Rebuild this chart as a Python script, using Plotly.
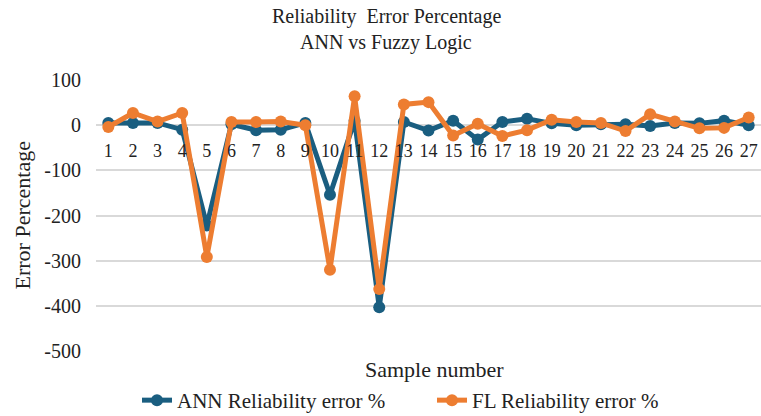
import plotly.graph_objects as go

samples = [str(i) for i in range(1, 28)]
ann_error = [5, 5, 5, -10, -222, 2, -11, -10, 5, -154, 10, -403, 7, -12, 10, -32, 7, 14, 4, 0, 2, 2, -2, 5, 4, 10, 0]
fl_error = [-4, 27, 8, 27, -292, 7, 7, 8, 0, -320, 64, -363, 46, 51, -23, 3, -24, -11, 12, 7, 5, -13, 24, 8, -7, -6, 17]
y_ticks = [100, 0, -100, -200, -300, -400, -500]
y_tick_text = ["100", "0", "-100", "-200", "-300", "-400", "-500"]

FONT = "Liberation Serif, Times New Roman, serif"
BLUE = "#1A5E80"
ORANGE = "#ED7D31"
TXT = "#222222"

fig = go.Figure()
fig.add_trace(go.Scatter(
    x=samples, y=ann_error, name="ANN Reliability error %",
    mode="lines+markers", line=dict(color=BLUE, width=5),
    marker=dict(color=BLUE, size=12)))
fig.add_trace(go.Scatter(
    x=samples, y=fl_error, name="FL Reliability error %",
    mode="lines+markers", line=dict(color=ORANGE, width=5),
    marker=dict(color=ORANGE, size=12)))

ymin, ymax = -500, 100
W, H = 761, 416
fig.update_layout(
    width=W, height=H,
    margin=dict(l=96, r=0, t=80, b=65, autoexpand=False),
    paper_bgcolor="white", plot_bgcolor="white",
    font=dict(family=FONT, color=TXT),
    showlegend=True,
    legend=dict(orientation="h", x=137 / W, xref="container", xanchor="left",
                y=1 - 380 / H, yref="container", yanchor="top",
                font=dict(size=21, family=FONT, color=TXT),
                entrywidth=250, entrywidthmode="pixels",
                bgcolor="rgba(0,0,0,0)"),
    xaxis=dict(type="category", range=[-0.5, 26.5], anchor="free",
               position=(0 - ymin) / (ymax - ymin),
               showgrid=False, showline=False, zeroline=False, ticks="",
               tickfont=dict(size=18, family=FONT, color=TXT),
               ticklabelstandoff=13, automargin=False),
    yaxis=dict(range=[ymin, ymax], tickvals=y_ticks, ticktext=y_tick_text,
               showgrid=True, gridcolor="#D9D9D9", gridwidth=1.5,
               zeroline=False, showline=False, ticks="",
               tickfont=dict(size=20, family=FONT, color=TXT),
               ticklabelstandoff=14, automargin=False),
    annotations=[
        dict(text="Reliability\u00a0\u00a0Error Percentage", xref="paper", yref="paper",
             x=(386 - 96) / 665, y=1 + (80 - 16) / 271, xanchor="center", yanchor="middle",
             showarrow=False, font=dict(size=20, family=FONT, color=TXT)),
        dict(text="ANN vs Fuzzy Logic", xref="paper", yref="paper",
             x=(386 - 96) / 665, y=1 + (80 - 42) / 271, xanchor="center", yanchor="middle",
             showarrow=False, font=dict(size=20, family=FONT, color=TXT)),
        dict(text="Sample number", xref="paper", yref="paper",
             x=(434 - 96) / 665, y=-(369 - 351) / 271, xanchor="center", yanchor="middle",
             showarrow=False, font=dict(size=22, family=FONT, color=TXT)),
        dict(text="Error Percentage", xref="paper", yref="paper",
             x=(22 - 96) / 665, y=0.5, xanchor="center", yanchor="middle",
             textangle=-90, showarrow=False,
             font=dict(size=22, family=FONT, color=TXT)),
    ],
)

fig.write_html(
    "out.html",
    config={"displayModeBar": False},
    post_script="document.body.style.margin='0';document.body.style.overflow='hidden';",
)
